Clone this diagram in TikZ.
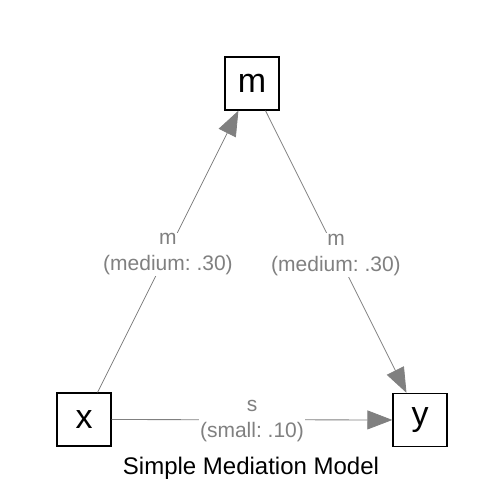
\documentclass[tikz,border=0pt]{standalone}
\usepackage{fontspec}
\setmainfont{Liberation Sans}
\usetikzlibrary{arrows.meta}
\frenchspacing
\begin{document}
\begin{tikzpicture}[x=1pt,y=-1pt,
  var/.style={draw=black,line width=1.3pt,minimum width=54pt,minimum height=53pt,inner sep=0pt,font=\fontsize{34}{38}\selectfont},
  path/.style={draw=gray,line width=0.8pt,-{Triangle[length=25pt,width=19pt]},color=gray},
  lab/.style={fill=white,inner sep=1pt,align=center,text=gray,font=\fontsize{21}{26}\selectfont}]
\useasboundingbox (0,0) rectangle (504,504);
\node[var] (m) at (252,83.5) {m};
\node[var] (x) at (84,419.5) {x};
\node[var] (y) at (420,420) {y};
\draw[path] (x) -- node[lab,yshift=-3pt] {m\\(medium: .30)} (m);
\draw[path] (m) -- node[lab,yshift=-3pt] {m\\(medium: .30)} (y);
\draw[path] (x) -- node[lab,yshift=-1pt] {s\\(small: .10)} (y);
\node[font=\fontsize{24}{28}\selectfont] (title) at (251,468) {Simple Mediation Model};
\end{tikzpicture}
\end{document}
